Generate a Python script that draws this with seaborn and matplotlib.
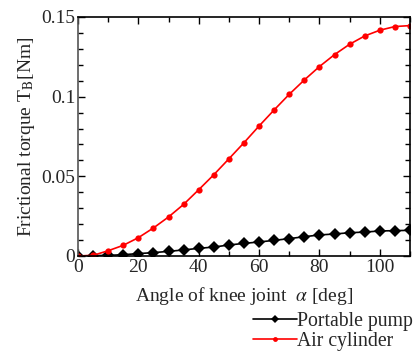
import numpy as np
import pandas as pd
import matplotlib
matplotlib.use("Agg")
import matplotlib.pyplot as plt
from matplotlib.ticker import MultipleLocator
import seaborn as sns

angle = [0, 5, 10, 15, 20, 25, 30, 35, 40, 45, 50, 55, 60, 65, 70, 75, 80, 85, 90, 95, 100, 105, 110]
portable_pump = [0.0, 0.0002, 0.0004, 0.0008, 0.0015, 0.0021, 0.0029, 0.0038, 0.0048, 0.0056, 0.0069, 0.0079,
                 0.0088, 0.0098, 0.0109, 0.0121, 0.0132, 0.0138, 0.0146, 0.0150, 0.0157, 0.0159, 0.0161]
air_cylinder = [0.0, 0.0004, 0.0033, 0.0067, 0.0115, 0.0176, 0.0245, 0.0324, 0.0416, 0.0510, 0.0610, 0.0711,
                0.0816, 0.0917, 0.1015, 0.1105, 0.1189, 0.1264, 0.1329, 0.1381, 0.1417, 0.1440, 0.1446]
series_names = ["Portable pump", "Air cylinder"]

df = pd.DataFrame({
    "angle": angle * 2,
    "torque": portable_pump + air_cylinder,
    "series": [series_names[0]] * len(angle) + [series_names[1]] * len(angle),
})

sns.set_theme(style="ticks")
plt.rcParams["font.family"] = ["Liberation Serif", "DejaVu Serif"]
plt.rcParams["mathtext.fontset"] = "stix"

fig = plt.figure(figsize=(4.16, 3.51), dpi=100)
ax = fig.add_axes([0.1875, 0.2707, 0.7981, 0.6809])

sns.lineplot(data=df, x="angle", y="torque", hue="series", style="series",
             palette={"Portable pump": "black", "Air cylinder": "#ff0000"},
             markers={"Portable pump": "D", "Air cylinder": "o"},
             dashes=False, markersize=5.5, markeredgewidth=0, linewidth=1.2, ax=ax)
for line in ax.get_lines():
    if line.get_marker() == "o":
        line.set_markersize(4.5)
    elif line.get_marker() == "D":
        line.set_markersize(6)

ax.set_xlim(0, 110)
ax.set_ylim(0, 0.15)
ax.xaxis.set_major_locator(MultipleLocator(20))
ax.xaxis.set_minor_locator(MultipleLocator(10))
ax.yaxis.set_major_locator(MultipleLocator(0.05))
ax.yaxis.set_minor_locator(MultipleLocator(0.01))
ax.set_yticks([0, 0.05, 0.1, 0.15])
ax.set_yticklabels(["0", "0.05", "0.1", "0.15"])
ax.tick_params(which="both", direction="in", top=True, right=True, labelsize=14, color="black", pad=2)
ax.tick_params(which="major", length=5, width=1)
ax.tick_params(which="minor", length=3.5, width=1)
for s in ax.spines.values():
    s.set_linewidth(1.2)
    s.set_color("black")
ax.spines["left"].set_color("#555555")

ax.set_xlabel(r"Angle of knee joint  $\alpha$ [deg]", fontsize=14, labelpad=7)
ax.set_ylabel(r"Frictional torque T$_\mathrm{B}$[Nm]", fontsize=14, labelpad=3)

handles, labels = ax.get_legend_handles_labels()
for h in handles:
    if hasattr(h, "set_markersize"):
        h.set_markersize(4.5 if h.get_marker() == "D" else 3.5)
ax.legend(handles, labels, loc="upper right", bbox_to_anchor=(1.02, 0.146),
          bbox_transform=fig.transFigure, frameon=False, fontsize=14.2,
          handlelength=2.2, handletextpad=0.0, labelspacing=0.05, borderpad=0.1)

fig.savefig("out.png", dpi=100)
